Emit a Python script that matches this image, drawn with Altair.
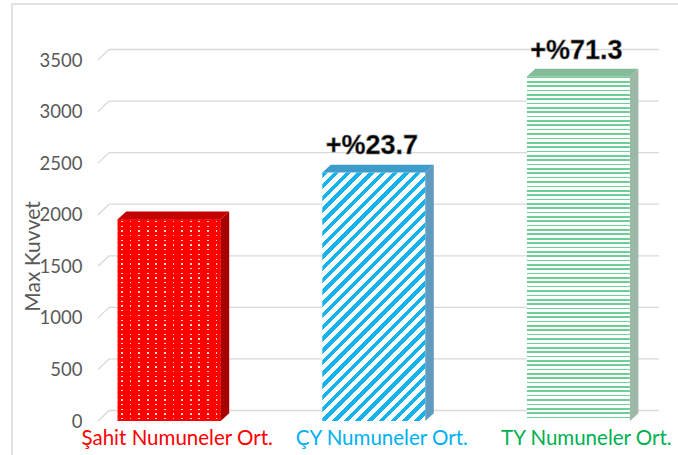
import math
import altair as alt
import pandas as pd

# ---------------- data ----------------
categories = ["Şahit Numuneler Ort.", "ÇY Numuneler Ort.", "TY Numuneler Ort."]
values = [1955, 2410, 3340]
increase_labels = ["", "+%23.7", "+%71.3"]
y_ticks = [0, 500, 1000, 1500, 2000, 2500, 3000, 3500]

# ---------------- style / geometry ----------------
label_colors = ["#FF0000", "#00B0F0", "#00B050"]
top_colors = ["#C40000", "#3E9CCB", "#86BB99"]
side_colors = ["#A80000", "#5F9BBE", "#9DB8A6"]

W, H = 549, 361
PAD = {"left": 98, "top": 60, "right": 31, "bottom": 34}
X_MIN, X_MAX = -0.348, 2.3353
Y_MAX = 3500
px_x = W / (X_MAX - X_MIN)
px_y = H / Y_MAX
BAR_PX = 103.0
half = BAR_PX / 2 / px_x
dx3 = 8.5 / px_x
dy3 = 7.8 / px_y
WALL_DX = 11
wall_dy = 10.5 / px_y

xscale = alt.Scale(domain=[X_MIN, X_MAX], nice=False, zero=False)
yscale = alt.Scale(domain=[0, Y_MAX], nice=False, zero=True)
yaxis = alt.Axis(
    values=y_ticks, format="d", domain=False, ticks=False, grid=False,
    labelFont="Lato", labelFontSize=18.5, labelColor="#595959", labelPadding=16,
    title="Max Kuvvet", titleFont="Lato", titleFontSize=21, titleFontWeight="normal",
    titleColor="#595959", titleAngle=-90, titleX=-65, titleY=196,
    titleAlign="center", titleBaseline="middle",
)


def Y(field):
    return alt.Y(field, type="quantitative", scale=yscale, axis=yaxis, stack=None)


def X(field):
    return alt.X(field, type="quantitative", scale=xscale, axis=None)


df = pd.DataFrame({"cat": categories, "pos": list(range(len(categories))),
                   "value": values, "label": increase_labels})


def stripes(n, segs):
    stops = []
    for k in range(n):
        pos = float(k)
        for frac, col in segs:
            stops.append(alt.GradientStop(offset=min(pos / n, 1.0), color=col))
            pos += frac
            stops.append(alt.GradientStop(offset=min(pos / n, 1.0), color=col))
    return stops


def bar_layer(i, gradient):
    return alt.Chart(df).transform_filter(
        alt.datum.pos == i
    ).transform_calculate(
        xl=f"datum.pos - {half}", xr=f"datum.pos + {half}"
    ).mark_bar(color=gradient, strokeWidth=0).encode(
        x=X("xl"), x2="xr:Q", y=Y("value"), y2=alt.datum(0)
    )


# red: dotted pattern = vertical pink columns + horizontal red bars with gaps
h0 = values[0] * px_y
red_cols = alt.LinearGradient(
    gradient="linear", x1=0, y1=0, x2=1, y2=0,
    stops=stripes(round(BAR_PX / 8.3), [(0.4, "#FF0000"), (0.2, "#FFD8D8"), (0.4, "#FF0000")]))
red_rows = alt.LinearGradient(
    gradient="linear", x1=0, y1=0, x2=0, y2=1,
    stops=stripes(round(h0 / 4.7), [(0.36, "#FF0000"), (0.28, "rgba(255,0,0,0)"), (0.36, "#FF0000")]))

# blue: 45 degree diagonal stripes
h1 = values[1] * px_y
k = (BAR_PX + h1) / (BAR_PX ** 2 + h1 ** 2)
blue = alt.LinearGradient(
    gradient="linear", x1=0, y1=0, x2=k * BAR_PX, y2=k * h1,
    stops=stripes(round((BAR_PX + h1) / math.sqrt(2) / 8.3), [(0.47, "#14B3EE"), (0.53, "#FFFFFF")]))

# green: fine horizontal lines
h2 = values[2] * px_y
green = alt.LinearGradient(
    gradient="linear", x1=0, y1=0, x2=0, y2=1,
    stops=stripes(round(h2 / 4.35), [(0.38, "#6CCF95"), (0.62, "#FFFFFF")]))

# 3D faces
top_rows, side_rows = [], []
for i, (c, v) in enumerate(zip(categories, values)):
    xl, xr = i - half, i + half
    top_rows += [
        {"cat": c, "x": xl, "lo": v, "hi": v},
        {"cat": c, "x": xl + dx3, "lo": v, "hi": v + dy3},
        {"cat": c, "x": xr, "lo": v, "hi": v + dy3},
        {"cat": c, "x": xr + dx3, "lo": v + dy3, "hi": v + dy3},
    ]
    side_rows += [
        {"cat": c, "x": xr, "lo": 0, "hi": v},
        {"cat": c, "x": xr + dx3, "lo": dy3, "hi": v + dy3},
    ]

top_df = pd.DataFrame(top_rows)
side_df = pd.DataFrame(side_rows)

top_faces = alt.Chart(top_df).mark_area(orient="vertical", strokeWidth=0).encode(
    x=X("x"), y=Y("lo"), y2="hi:Q",
    color=alt.Color("cat:N", scale=alt.Scale(domain=categories, range=top_colors), legend=None),
)
side_faces = alt.Chart(side_df).mark_area(orient="vertical", strokeWidth=0).encode(
    x=X("x"), y=Y("lo"), y2="hi:Q",
    fill=alt.Fill("cat:N", scale=alt.Scale(domain=categories, range=side_colors), legend=None),
)

# back-wall gridlines and the little 3D stubs from the axis
ticks_df = pd.DataFrame({"tick": y_ticks})
grid = alt.Chart(ticks_df).transform_calculate(
    gy=f"datum.tick + {wall_dy}"
).mark_rule(color="#D9D9D9", strokeWidth=1.3).encode(
    x=alt.value(WALL_DX), x2=alt.value(561), y=Y("gy")
)
stubs = alt.Chart(ticks_df).transform_calculate(
    gy=f"datum.tick + {wall_dy}"
).mark_rule(color="#D9D9D9", strokeWidth=1.3).encode(
    x=alt.value(0), x2=alt.value(WALL_DX), y=Y("tick"), y2="gy:Q"
)

frame = alt.Chart(pd.DataFrame({"a": [0]})).mark_rect(
    fillOpacity=0, stroke="#D9D9D9", strokeWidth=1.5
).encode(x=alt.value(-86), x2=alt.value(620), y=alt.value(-56), y2=alt.value(430))

# increase labels (bold, with a soft grey outline for the shadowed look)
lab_df = df[df["label"] != ""]
labels = alt.Chart(lab_df).mark_text(
    font="Liberation Sans", fontSize=27, fontWeight="bold", color="#000000",
    stroke="#7F7F7F", strokeWidth=0.8, strokeOpacity=0.7,
    baseline="alphabetic", align="center", dx=-2, dy=-18
).encode(x=X("pos"), y=Y("value"), text="label:N")

# category labels (coloured)
cat_labels = alt.Chart(df).mark_text(
    font="Lato", fontSize=20.5, baseline="middle", align="center", dx=8
).encode(
    x=X("pos"), y=alt.value(379), text="cat:N",
    color=alt.Color("cat:N", scale=alt.Scale(domain=categories, range=label_colors), legend=None),
)

chart = alt.layer(
    frame, grid, stubs,
    bar_layer(0, red_cols), bar_layer(0, red_rows),
    bar_layer(1, blue), bar_layer(2, green),
    side_faces, top_faces,
    labels, cat_labels,
).resolve_scale(color="independent", fill="independent").properties(
    width=W, height=H,
    autosize=alt.AutoSizeParams(type="none"),
    padding=PAD, background="white",
).configure_view(stroke=None)

chart.save("out.html", embed_options={"renderer": "svg", "actions": False})
